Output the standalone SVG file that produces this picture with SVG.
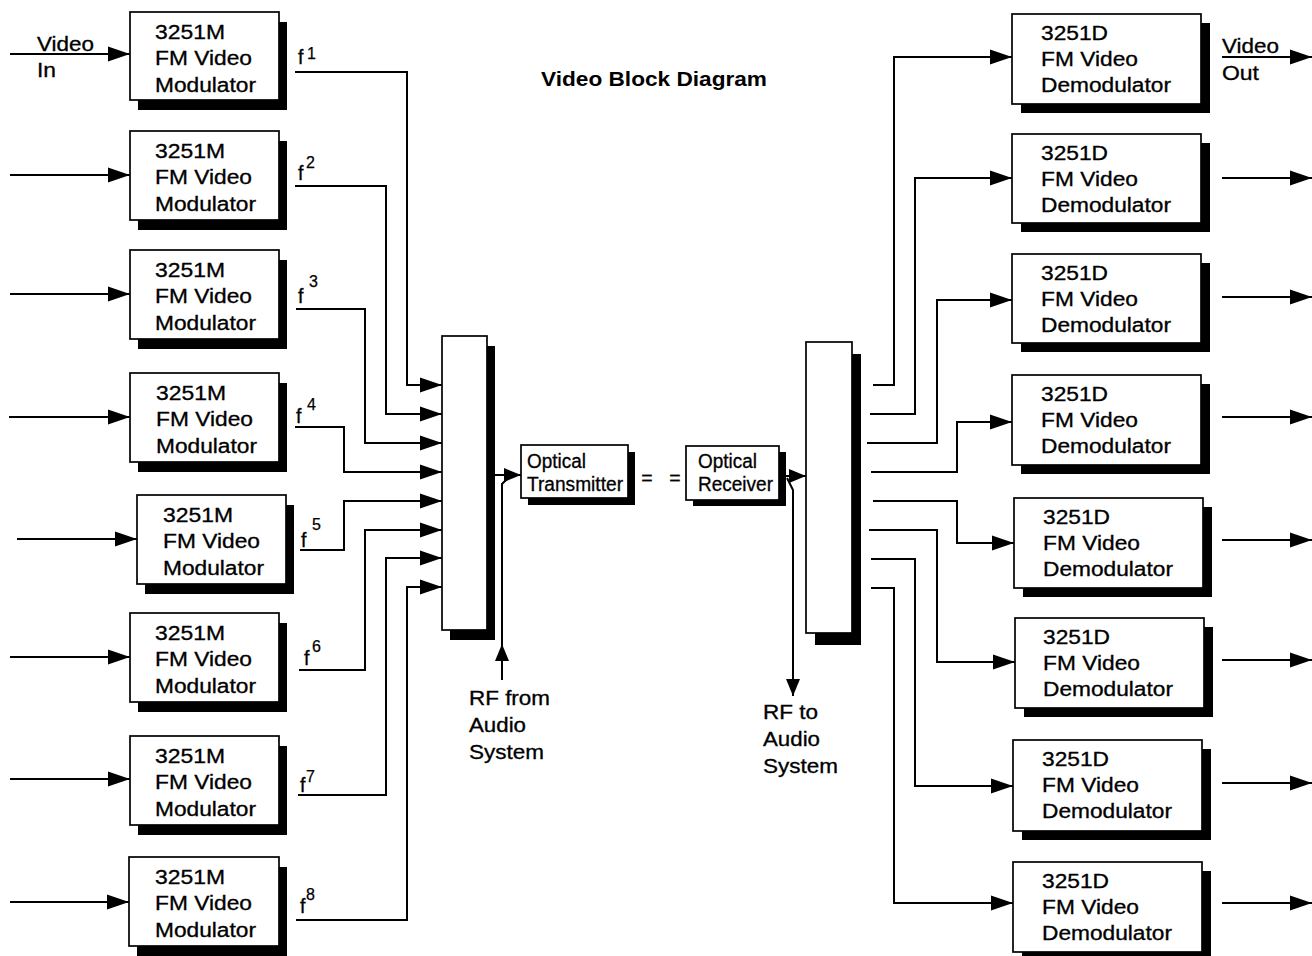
<svg xmlns="http://www.w3.org/2000/svg" width="1312" height="956" viewBox="0 0 1312 956">
<style>
.bg{fill:#fff}
.box{fill:#fff;stroke:#000;stroke-width:1.7}
.sh{fill:#000}
.ln{fill:none;stroke:#000;stroke-width:2}
.arr{marker-end:url(#ah)}
.t{font-family:"Liberation Sans",Arial,Helvetica,sans-serif;font-size:19.5px;fill:#000;stroke:#000;stroke-width:0.3}
.s{font-family:"Liberation Sans",Arial,Helvetica,sans-serif;font-size:16px;fill:#000;stroke:#000;stroke-width:0.25}
.ti{font-family:"Liberation Sans",Arial,Helvetica,sans-serif;font-size:20px;font-weight:bold;fill:#000}
</style>
<defs>
<marker id="ah" markerUnits="userSpaceOnUse" markerWidth="23" markerHeight="16" refX="22" refY="8" orient="auto">
<path d="M0,0.5 L22,8 L0,15.5 z" fill="#000"/>
</marker>
<marker id="ahs" markerUnits="userSpaceOnUse" markerWidth="18" markerHeight="16" refX="17" refY="8" orient="auto">
<path d="M0,1 L17,8 L0,15 z" fill="#000"/>
</marker>
</defs>
<rect class="bg" x="0" y="0" width="1312" height="956"/>

<text class="ti" x="541" y="86" textLength="226" lengthAdjust="spacingAndGlyphs">Video Block Diagram</text>

<!-- Modulators -->
<g id="mod1"><rect class="sh" x="138" y="22" width="149" height="88"/><rect class="box" x="130" y="12" width="149" height="88"/>
<text class="t" x="155" y="38.5" textLength="70" lengthAdjust="spacingAndGlyphs">3251M</text><text class="t" x="155" y="64.5" textLength="97" lengthAdjust="spacingAndGlyphs">FM Video</text><text class="t" x="155" y="91.5" textLength="101" lengthAdjust="spacingAndGlyphs">Modulator</text></g>
<g id="mod2"><rect class="sh" x="138" y="141" width="149" height="89"/><rect class="box" x="130" y="131" width="149" height="89"/>
<text class="t" x="155" y="157.5" textLength="70" lengthAdjust="spacingAndGlyphs">3251M</text><text class="t" x="155" y="183.5" textLength="97" lengthAdjust="spacingAndGlyphs">FM Video</text><text class="t" x="155" y="210.5" textLength="101" lengthAdjust="spacingAndGlyphs">Modulator</text></g>
<g id="mod3"><rect class="sh" x="138" y="260" width="149" height="89"/><rect class="box" x="130" y="250" width="149" height="89"/>
<text class="t" x="155" y="276.5" textLength="70" lengthAdjust="spacingAndGlyphs">3251M</text><text class="t" x="155" y="302.5" textLength="97" lengthAdjust="spacingAndGlyphs">FM Video</text><text class="t" x="155" y="329.5" textLength="101" lengthAdjust="spacingAndGlyphs">Modulator</text></g>
<g id="mod4"><rect class="sh" x="138" y="383" width="149" height="89"/><rect class="box" x="130" y="373" width="149" height="89"/>
<text class="t" x="156" y="399.5" textLength="70" lengthAdjust="spacingAndGlyphs">3251M</text><text class="t" x="156" y="425.5" textLength="97" lengthAdjust="spacingAndGlyphs">FM Video</text><text class="t" x="156" y="452.5" textLength="101" lengthAdjust="spacingAndGlyphs">Modulator</text></g>
<g id="mod5"><rect class="sh" x="145" y="505" width="149" height="89"/><rect class="box" x="137" y="495" width="149" height="89"/>
<text class="t" x="163" y="521.5" textLength="70" lengthAdjust="spacingAndGlyphs">3251M</text><text class="t" x="163" y="547.5" textLength="97" lengthAdjust="spacingAndGlyphs">FM Video</text><text class="t" x="163" y="574.5" textLength="101" lengthAdjust="spacingAndGlyphs">Modulator</text></g>
<g id="mod6"><rect class="sh" x="138" y="623" width="149" height="89"/><rect class="box" x="130" y="613" width="149" height="89"/>
<text class="t" x="155" y="639.5" textLength="70" lengthAdjust="spacingAndGlyphs">3251M</text><text class="t" x="155" y="665.5" textLength="97" lengthAdjust="spacingAndGlyphs">FM Video</text><text class="t" x="155" y="692.5" textLength="101" lengthAdjust="spacingAndGlyphs">Modulator</text></g>
<g id="mod7"><rect class="sh" x="138" y="746" width="149" height="89"/><rect class="box" x="130" y="736" width="149" height="89"/>
<text class="t" x="155" y="762.5" textLength="70" lengthAdjust="spacingAndGlyphs">3251M</text><text class="t" x="155" y="788.5" textLength="97" lengthAdjust="spacingAndGlyphs">FM Video</text><text class="t" x="155" y="815.5" textLength="101" lengthAdjust="spacingAndGlyphs">Modulator</text></g>
<g id="mod8"><rect class="sh" x="137" y="867" width="150" height="89"/><rect class="box" x="129" y="857" width="150" height="89"/>
<text class="t" x="155" y="883.5" textLength="70" lengthAdjust="spacingAndGlyphs">3251M</text><text class="t" x="155" y="909.5" textLength="97" lengthAdjust="spacingAndGlyphs">FM Video</text><text class="t" x="155" y="936.5" textLength="101" lengthAdjust="spacingAndGlyphs">Modulator</text></g>

<!-- Combiner / splitter -->
<g id="combiner"><rect class="sh" x="450" y="346" width="45" height="294"/><rect class="box" x="442" y="336" width="45" height="294"/></g>
<g id="splitter"><rect class="sh" x="815" y="354" width="46" height="291"/><rect class="box" x="806" y="342" width="46" height="291"/></g>

<g id="otx"><rect class="sh" x="528" y="452" width="107" height="53"/><rect class="box" x="521" y="445" width="107" height="53"/>
<text class="t" x="527" y="468" textLength="59" lengthAdjust="spacingAndGlyphs">Optical</text><text class="t" x="527" y="491" textLength="96" lengthAdjust="spacingAndGlyphs">Transmitter</text></g>
<g id="orx"><rect class="sh" x="693" y="452" width="93" height="54"/><rect class="box" x="686" y="446" width="93" height="54"/>
<text class="t" x="698" y="468" textLength="59" lengthAdjust="spacingAndGlyphs">Optical</text><text class="t" x="698" y="491" textLength="75" lengthAdjust="spacingAndGlyphs">Receiver</text></g>
<g id="link"><text class="t" x="647" y="485" text-anchor="middle">=</text><text class="t" x="675" y="485" text-anchor="middle">=</text></g>

<!-- Demodulators -->
<g id="dem1"><rect class="sh" x="1021" y="23" width="189" height="90"/><rect class="box" x="1012" y="14" width="189" height="90"/>
<text class="t" x="1041" y="40" textLength="67" lengthAdjust="spacingAndGlyphs">3251D</text><text class="t" x="1041" y="66" textLength="97" lengthAdjust="spacingAndGlyphs">FM Video</text><text class="t" x="1041" y="92" textLength="130" lengthAdjust="spacingAndGlyphs">Demodulator</text></g>
<g id="dem2"><rect class="sh" x="1021" y="143" width="189" height="89"/><rect class="box" x="1012" y="134" width="189" height="89"/>
<text class="t" x="1041" y="160" textLength="67" lengthAdjust="spacingAndGlyphs">3251D</text><text class="t" x="1041" y="186" textLength="97" lengthAdjust="spacingAndGlyphs">FM Video</text><text class="t" x="1041" y="212" textLength="130" lengthAdjust="spacingAndGlyphs">Demodulator</text></g>
<g id="dem3"><rect class="sh" x="1021" y="263" width="189" height="89"/><rect class="box" x="1012" y="254" width="189" height="89"/>
<text class="t" x="1041" y="280" textLength="67" lengthAdjust="spacingAndGlyphs">3251D</text><text class="t" x="1041" y="306" textLength="97" lengthAdjust="spacingAndGlyphs">FM Video</text><text class="t" x="1041" y="332" textLength="130" lengthAdjust="spacingAndGlyphs">Demodulator</text></g>
<g id="dem4"><rect class="sh" x="1021" y="384" width="189" height="90"/><rect class="box" x="1012" y="375" width="189" height="90"/>
<text class="t" x="1041" y="401" textLength="67" lengthAdjust="spacingAndGlyphs">3251D</text><text class="t" x="1041" y="427" textLength="97" lengthAdjust="spacingAndGlyphs">FM Video</text><text class="t" x="1041" y="453" textLength="130" lengthAdjust="spacingAndGlyphs">Demodulator</text></g>
<g id="dem5"><rect class="sh" x="1023" y="507" width="189" height="90"/><rect class="box" x="1014" y="498" width="189" height="90"/>
<text class="t" x="1043" y="524" textLength="67" lengthAdjust="spacingAndGlyphs">3251D</text><text class="t" x="1043" y="550" textLength="97" lengthAdjust="spacingAndGlyphs">FM Video</text><text class="t" x="1043" y="576" textLength="130" lengthAdjust="spacingAndGlyphs">Demodulator</text></g>
<g id="dem6"><rect class="sh" x="1024" y="627" width="189" height="90"/><rect class="box" x="1015" y="618" width="189" height="90"/>
<text class="t" x="1043" y="644" textLength="67" lengthAdjust="spacingAndGlyphs">3251D</text><text class="t" x="1043" y="670" textLength="97" lengthAdjust="spacingAndGlyphs">FM Video</text><text class="t" x="1043" y="696" textLength="130" lengthAdjust="spacingAndGlyphs">Demodulator</text></g>
<g id="dem7"><rect class="sh" x="1022" y="749" width="189" height="91"/><rect class="box" x="1013" y="740" width="189" height="91"/>
<text class="t" x="1042" y="766" textLength="67" lengthAdjust="spacingAndGlyphs">3251D</text><text class="t" x="1042" y="792" textLength="97" lengthAdjust="spacingAndGlyphs">FM Video</text><text class="t" x="1042" y="818" textLength="130" lengthAdjust="spacingAndGlyphs">Demodulator</text></g>
<g id="dem8"><rect class="sh" x="1022" y="871" width="189" height="90"/><rect class="box" x="1013" y="862" width="189" height="90"/>
<text class="t" x="1042" y="888" textLength="67" lengthAdjust="spacingAndGlyphs">3251D</text><text class="t" x="1042" y="914" textLength="97" lengthAdjust="spacingAndGlyphs">FM Video</text><text class="t" x="1042" y="940" textLength="130" lengthAdjust="spacingAndGlyphs">Demodulator</text></g>

<!-- Labels -->
<g id="labels">
<text class="t" x="37" y="51" textLength="57" lengthAdjust="spacingAndGlyphs">Video</text>
<text class="t" x="37" y="77" textLength="19" lengthAdjust="spacingAndGlyphs">In</text>
<text class="t" x="1222" y="53" textLength="57" lengthAdjust="spacingAndGlyphs">Video</text>
<text class="t" x="1222" y="80" textLength="37" lengthAdjust="spacingAndGlyphs">Out</text>
<text class="t" x="469" y="705" textLength="81" lengthAdjust="spacingAndGlyphs">RF from</text>
<text class="t" x="469" y="732" textLength="57" lengthAdjust="spacingAndGlyphs">Audio</text>
<text class="t" x="469" y="759" textLength="75" lengthAdjust="spacingAndGlyphs">System</text>
<text class="t" x="763" y="719" textLength="55" lengthAdjust="spacingAndGlyphs">RF to</text>
<text class="t" x="763" y="746" textLength="57" lengthAdjust="spacingAndGlyphs">Audio</text>
<text class="t" x="763" y="773" textLength="75" lengthAdjust="spacingAndGlyphs">System</text>
<text class="t" x="298" y="64">f</text><text class="s" x="307" y="59">1</text>
<text class="t" x="298" y="180">f</text><text class="s" x="306" y="168">2</text>
<text class="t" x="298" y="303">f</text><text class="s" x="309" y="287">3</text>
<text class="t" x="296" y="423">f</text><text class="s" x="307" y="410">4</text>
<text class="t" x="301" y="547">f</text><text class="s" x="312" y="530">5</text>
<text class="t" x="304" y="665">f</text><text class="s" x="312" y="652">6</text>
<text class="t" x="300" y="792">f</text><text class="s" x="306" y="782">7</text>
<text class="t" x="300" y="913">f</text><text class="s" x="306" y="900">8</text>
</g>

<!-- Connectors -->
<g id="connectors">
<path class="ln arr" d="M10,54 H130"/>
<path class="ln arr" d="M10,175 H130"/>
<path class="ln arr" d="M10,294 H130"/>
<path class="ln arr" d="M9,417 H130"/>
<path class="ln arr" d="M17,539 H137"/>
<path class="ln arr" d="M10,657 H130"/>
<path class="ln arr" d="M10,779 H130"/>
<path class="ln arr" d="M10,902 H129"/>

<path class="ln arr" d="M295,72 H407 V385 H442"/>
<path class="ln arr" d="M295,186 H386 V414 H442"/>
<path class="ln arr" d="M296,309 H365 V443 H442"/>
<path class="ln arr" d="M295,427 H344 V472 H442"/>
<path class="ln arr" d="M300,550 H344 V501 H442"/>
<path class="ln arr" d="M299,670 H365 V530 H442"/>
<path class="ln arr" d="M298,795 H386 V558 H442"/>
<path class="ln arr" d="M296,920 H407 V587 H442"/>

<path class="ln" d="M495,475 H504"/>
<path class="ln" style="marker-end:url(#ahs)" d="M504,475 H521"/>
<path class="ln" style="marker-end:url(#ahs)" d="M502,680 V644"/>
<path class="ln" d="M502,660 V484 L510,476"/>

<path class="ln" d="M786,476 H790"/>
<path class="ln" style="marker-end:url(#ahs)" d="M789,476 H806"/>
<path class="ln" d="M787,478 L793,490 V672"/>
<path class="ln" style="marker-end:url(#ahs)" d="M793,668 V696"/>

<path class="ln arr" d="M873,385 H894 V57 H1012"/>
<path class="ln arr" d="M870,414 H915 V178 H1012"/>
<path class="ln arr" d="M867,443 H937 V300 H1012"/>
<path class="ln arr" d="M871,472 H957 V422 H1012"/>
<path class="ln arr" d="M873,501 H957 V543 H1014"/>
<path class="ln arr" d="M869,530 H937 V662 H1015"/>
<path class="ln arr" d="M871,559 H915 V786 H1013"/>
<path class="ln arr" d="M871,588 H894 V903 H1013"/>

<path class="ln arr" d="M1222,57 H1312"/>
<path class="ln arr" d="M1222,178 H1312"/>
<path class="ln arr" d="M1222,297 H1312"/>
<path class="ln arr" d="M1222,417 H1312"/>
<path class="ln arr" d="M1222,540 H1312"/>
<path class="ln arr" d="M1222,660 H1312"/>
<path class="ln arr" d="M1222,783 H1312"/>
<path class="ln arr" d="M1222,903 H1312"/>
</g>
</svg>
